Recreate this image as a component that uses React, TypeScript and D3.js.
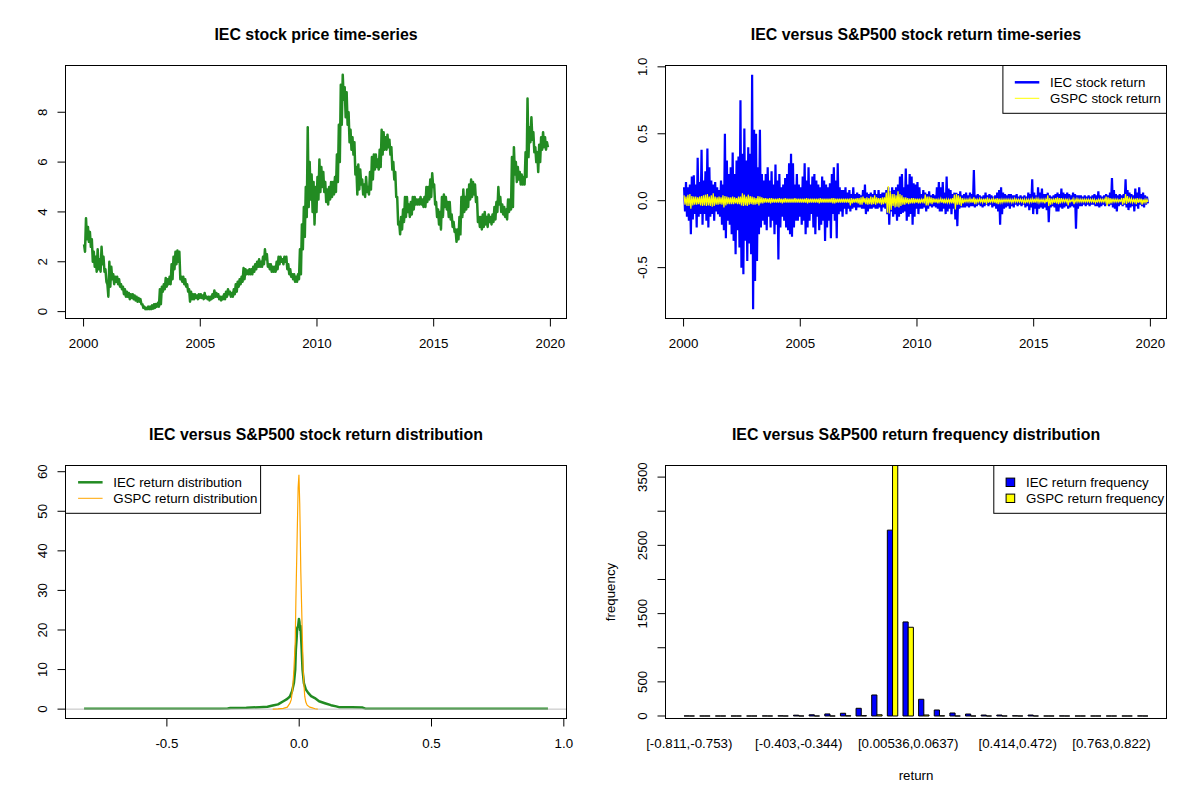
import * as d3 from "d3"

// ---------- data (read from the reference) ----------

// IEC price, monthly high / low, Jan 2000 .. Nov 2019
const iecPriceHigh = [
  2.7, 3.75, 3.4, 3.2, 2.9, 2.4, 2.2, 2.5, 2.1, 2.6, 2.2, 1.7,
  1.1, 2.0, 1.8, 1.5, 1.4, 1.4, 1.3, 1.1, 1.0, 0.9, 0.8, 0.75,
  0.7, 0.7, 0.65, 0.6, 0.55, 0.5, 0.3, 0.2, 0.15, 0.2, 0.2, 0.25,
  0.3, 0.3, 0.35, 0.9, 1.0, 1.1, 1.35, 1.3, 1.4, 1.9, 2.2, 2.4,
  2.45, 2.4, 1.4, 1.4, 1.3, 1.1, 0.9, 0.8, 0.7, 0.7, 0.65, 0.7,
  0.7, 0.65, 0.75, 0.6, 0.6, 0.6, 0.7, 0.85, 0.75, 0.7, 0.6, 0.6,
  0.7, 0.8, 0.9, 0.8, 0.75, 0.9, 1.1, 1.2, 1.3, 1.4, 1.75, 1.7,
  1.65, 1.7, 1.7, 1.8, 1.9, 2.0, 2.1, 2.0, 2.2, 2.5, 2.3, 1.9,
  1.9, 1.8, 1.8, 2.0, 2.2, 2.2, 2.1, 2.2, 2.2, 1.9, 1.7, 1.5,
  1.5, 1.4, 1.5, 2.5, 3.5, 4.2, 5.0, 7.4, 6.0, 5.5, 5.2, 5.0,
  5.4, 6.1, 5.8, 5.6, 5.2, 4.9, 5.0, 5.2, 5.2, 5.4, 6.3, 7.5,
  9.1, 9.5, 9.0, 8.8, 8.0, 7.3, 7.0, 6.8, 5.8, 5.9, 5.7, 5.3,
  5.1, 5.4, 5.0, 5.6, 6.2, 6.3, 6.3, 6.1, 6.5, 7.3, 7.2, 7.0,
  7.1, 6.9, 6.6, 6.0, 5.6, 4.6, 3.6, 3.8, 4.1, 4.6, 4.6, 4.3,
  4.4, 4.6, 4.6, 4.5, 4.5, 4.6, 4.5, 4.6, 5.0, 5.0, 5.3, 5.55,
  5.1, 4.4, 4.1, 4.0, 4.6, 4.7, 4.6, 4.4, 4.4, 3.9, 3.6, 3.3,
  3.3, 3.8, 4.6, 4.9, 4.6, 4.9, 5.1, 5.3, 5.2, 5.1, 4.6, 3.8,
  3.8, 3.9, 4.0, 3.8, 3.9, 3.8, 3.9, 4.2, 4.4, 5.0, 4.6, 4.3,
  4.2, 4.1, 4.5, 4.5, 6.2, 6.6, 6.0, 5.8, 5.6, 5.5, 5.4, 6.4,
  8.55, 7.4, 7.8, 7.2, 6.6, 6.4, 6.7, 7.0, 7.2, 7.0, 6.8,
]
const iecPriceLow = [
  2.4, 2.9, 2.8, 2.6, 2.0, 1.8, 1.6, 1.7, 1.6, 1.9, 1.6, 1.2,
  0.6, 1.0, 1.3, 1.1, 1.2, 1.1, 1.0, 0.9, 0.7, 0.6, 0.6, 0.5,
  0.55, 0.5, 0.45, 0.4, 0.4, 0.3, 0.15, 0.1, 0.1, 0.1, 0.1, 0.12,
  0.15, 0.2, 0.2, 0.3, 0.8, 0.9, 1.0, 1.1, 1.1, 1.3, 1.7, 1.9,
  2.0, 1.3, 1.2, 1.1, 1.0, 0.8, 0.4, 0.5, 0.5, 0.55, 0.5, 0.55,
  0.55, 0.5, 0.55, 0.5, 0.45, 0.5, 0.55, 0.6, 0.6, 0.5, 0.45, 0.5,
  0.5, 0.6, 0.7, 0.6, 0.6, 0.7, 0.8, 1.0, 1.1, 1.2, 1.3, 1.5,
  1.5, 1.5, 1.5, 1.6, 1.7, 1.8, 1.8, 1.8, 1.9, 2.1, 1.8, 1.7,
  1.6, 1.6, 1.6, 1.7, 1.9, 2.0, 1.9, 2.0, 1.7, 1.5, 1.4, 1.3,
  1.2, 1.2, 1.3, 1.5, 2.5, 3.0, 3.8, 4.2, 4.5, 4.0, 3.5, 4.0,
  4.5, 4.8, 5.0, 4.8, 4.4, 4.3, 4.5, 4.6, 4.7, 4.8, 5.2, 6.0,
  7.5, 8.5, 7.8, 7.5, 6.8, 6.5, 6.3, 5.5, 4.7, 4.9, 5.1, 4.7,
  4.6, 4.8, 4.7, 4.9, 5.3, 5.7, 5.8, 5.7, 5.8, 6.3, 6.5, 6.5,
  6.6, 6.3, 5.7, 5.3, 4.6, 3.5, 3.1, 3.3, 3.6, 3.8, 4.0, 3.8,
  3.9, 4.1, 4.3, 4.3, 4.3, 4.3, 4.2, 4.2, 4.4, 4.5, 4.6, 5.0,
  4.3, 3.8, 3.5, 3.3, 3.8, 4.2, 4.1, 3.8, 3.7, 3.4, 3.2, 2.8,
  2.9, 3.1, 3.8, 4.0, 4.1, 4.2, 4.5, 4.6, 4.7, 4.4, 3.6, 3.4,
  3.3, 3.4, 3.5, 3.4, 3.6, 3.5, 3.6, 3.7, 4.0, 4.3, 4.0, 3.9,
  3.8, 3.7, 4.0, 4.1, 4.2, 5.5, 5.2, 5.3, 5.1, 5.1, 5.1, 5.4,
  6.2, 6.8, 6.9, 6.4, 6.0, 5.6, 6.0, 6.5, 6.6, 6.5, 6.6,
]

// daily returns, monthly max / min
const iecRetMax = [
  0.10, 0.14, 0.10, 0.12, 0.18, 0.19, 0.12, 0.32, 0.14, 0.38, 0.15, 0.22,
  0.39, 0.25, 0.15, 0.12, 0.14, 0.10, 0.08, 0.15, 0.12, 0.50, 0.30, 0.20,
  0.25, 0.36, 0.20, 0.30, 0.33, 0.75, 0.35, 0.54, 0.30, 0.40, 0.35, 0.94,
  0.53, 0.50, 0.25, 0.53, 0.20, 0.15, 0.20, 0.25, 0.15, 0.22, 0.12, 0.27,
  0.15, 0.20, 0.10, 0.12, 0.17, 0.20, 0.28, 0.35, 0.28, 0.12, 0.20, 0.12,
  0.10, 0.18, 0.28, 0.15, 0.25, 0.12, 0.18, 0.20, 0.15, 0.12, 0.10, 0.18,
  0.15, 0.12, 0.10, 0.13, 0.20, 0.25, 0.15, 0.28, 0.10, 0.08, 0.08, 0.10,
  0.06, 0.08, 0.05, 0.10, 0.05, 0.06, 0.05, 0.04, 0.08, 0.12, 0.06, 0.05,
  0.06, 0.05, 0.08, 0.05, 0.08, 0.05, 0.06, 0.06, 0.08, 0.10, 0.07, 0.10,
  0.08, 0.10, 0.12, 0.18, 0.20, 0.10, 0.24, 0.12, 0.20, 0.18, 0.13, 0.12,
  0.14, 0.10, 0.05, 0.08, 0.06, 0.05, 0.07, 0.04, 0.05, 0.04, 0.10, 0.14,
  0.10, 0.14, 0.06, 0.18, 0.09, 0.08, 0.05, 0.06, 0.06, 0.05, 0.07, 0.04,
  0.05, 0.06, 0.04, 0.06, 0.05, 0.23, 0.04, 0.05, 0.04, 0.03, 0.04, 0.06,
  0.04, 0.05, 0.04, 0.03, 0.04, 0.06, 0.08, 0.10, 0.06, 0.05, 0.04, 0.05,
  0.05, 0.04, 0.04, 0.05, 0.03, 0.04, 0.03, 0.04, 0.03, 0.06, 0.05, 0.16,
  0.06, 0.04, 0.10, 0.06, 0.09, 0.05, 0.05, 0.06, 0.04, 0.03, 0.04, 0.05,
  0.06, 0.05, 0.09, 0.06, 0.05, 0.06, 0.05, 0.04, 0.06, 0.05, 0.04, 0.04,
  0.04, 0.03, 0.04, 0.03, 0.04, 0.03, 0.04, 0.05, 0.04, 0.07, 0.04, 0.03,
  0.04, 0.05, 0.04, 0.06, 0.17, 0.08, 0.05, 0.04, 0.05, 0.04, 0.05, 0.16,
  0.08, 0.06, 0.05, 0.04, 0.09, 0.06, 0.10, 0.05, 0.06, 0.04, 0.03,
]
const iecRetMin = [
  -0.08, -0.12, -0.15, -0.25, -0.14, -0.10, -0.20, -0.12, -0.10, -0.18, -0.10, -0.15,
  -0.20, -0.12, -0.10, -0.15, -0.08, -0.10, -0.12, -0.18, -0.22, -0.28, -0.15, -0.18,
  -0.25, -0.30, -0.40, -0.22, -0.35, -0.50, -0.55, -0.30, -0.45, -0.32, -0.40, -0.81,
  -0.60, -0.45, -0.25, -0.20, -0.15, -0.18, -0.22, -0.12, -0.20, -0.15, -0.25, -0.18,
  -0.44, -0.20, -0.12, -0.15, -0.20, -0.22, -0.25, -0.27, -0.20, -0.15, -0.15, -0.12,
  -0.18, -0.15, -0.25, -0.20, -0.15, -0.10, -0.20, -0.25, -0.12, -0.22, -0.18, -0.15,
  -0.30, -0.20, -0.15, -0.28, -0.10, -0.15, -0.28, -0.10, -0.08, -0.12, -0.06, -0.10,
  -0.06, -0.08, -0.06, -0.05, -0.07, -0.05, -0.05, -0.06, -0.06, -0.10, -0.08, -0.06,
  -0.06, -0.05, -0.06, -0.06, -0.05, -0.08, -0.05, -0.06, -0.10, -0.18, -0.08, -0.12,
  -0.10, -0.15, -0.12, -0.10, -0.09, -0.08, -0.15, -0.12, -0.10, -0.18, -0.12, -0.06,
  -0.10, -0.06, -0.06, -0.05, -0.08, -0.06, -0.04, -0.05, -0.04, -0.05, -0.06, -0.08,
  -0.08, -0.06, -0.10, -0.08, -0.06, -0.10, -0.06, -0.14, -0.19, -0.06, -0.05, -0.05,
  -0.05, -0.04, -0.05, -0.04, -0.04, -0.05, -0.04, -0.03, -0.04, -0.05, -0.04, -0.03,
  -0.04, -0.03, -0.05, -0.04, -0.06, -0.08, -0.18, -0.10, -0.06, -0.05, -0.04, -0.06,
  -0.04, -0.05, -0.03, -0.04, -0.03, -0.04, -0.03, -0.05, -0.04, -0.07, -0.05, -0.10,
  -0.06, -0.10, -0.06, -0.05, -0.06, -0.05, -0.07, -0.16, -0.05, -0.04, -0.05, -0.08,
  -0.08, -0.05, -0.06, -0.05, -0.04, -0.06, -0.05, -0.04, -0.05, -0.21, -0.06, -0.04,
  -0.04, -0.03, -0.04, -0.03, -0.04, -0.03, -0.03, -0.04, -0.04, -0.05, -0.04, -0.03,
  -0.04, -0.03, -0.04, -0.03, -0.05, -0.06, -0.08, -0.04, -0.03, -0.04, -0.03, -0.05,
  -0.07, -0.05, -0.04, -0.08, -0.04, -0.06, -0.03, -0.04, -0.05, -0.03, -0.02,
]
const gspcRetMax = [
  0.04, 0.03, 0.045, 0.05, 0.035, 0.03, 0.03, 0.025, 0.03, 0.035, 0.04, 0.045,
  0.05, 0.03, 0.04, 0.055, 0.03, 0.025, 0.03, 0.025, 0.04, 0.035, 0.03, 0.025,
  0.025, 0.03, 0.025, 0.02, 0.03, 0.03, 0.055, 0.045, 0.03, 0.045, 0.035, 0.03,
  0.025, 0.02, 0.035, 0.03, 0.025, 0.02, 0.02, 0.015, 0.02, 0.02, 0.015, 0.015,
  0.015, 0.02, 0.015, 0.015, 0.02, 0.015, 0.015, 0.015, 0.015, 0.02, 0.015, 0.015,
  0.015, 0.015, 0.015, 0.02, 0.015, 0.015, 0.015, 0.015, 0.015, 0.015, 0.02, 0.015,
  0.015, 0.015, 0.015, 0.015, 0.02, 0.02, 0.015, 0.015, 0.015, 0.015, 0.015, 0.015,
  0.015, 0.015, 0.02, 0.015, 0.015, 0.02, 0.02, 0.025, 0.03, 0.02, 0.025, 0.02,
  0.03, 0.025, 0.04, 0.025, 0.02, 0.02, 0.025, 0.025, 0.06, 0.11, 0.07, 0.05,
  0.05, 0.04, 0.07, 0.05, 0.04, 0.025, 0.025, 0.02, 0.015, 0.02, 0.02, 0.015,
  0.015, 0.015, 0.01, 0.015, 0.045, 0.03, 0.03, 0.025, 0.02, 0.015, 0.015, 0.01,
  0.015, 0.015, 0.015, 0.01, 0.01, 0.015, 0.02, 0.045, 0.05, 0.04, 0.03, 0.02,
  0.01, 0.01, 0.01, 0.015, 0.015, 0.025, 0.015, 0.01, 0.015, 0.01, 0.015, 0.015,
  0.025, 0.01, 0.01, 0.015, 0.015, 0.02, 0.015, 0.01, 0.01, 0.01, 0.01, 0.01,
  0.01, 0.01, 0.015, 0.01, 0.01, 0.01, 0.01, 0.01, 0.01, 0.01, 0.01, 0.015,
  0.015, 0.015, 0.015, 0.01, 0.01, 0.01, 0.01, 0.04, 0.02, 0.015, 0.01, 0.02,
  0.025, 0.02, 0.02, 0.01, 0.01, 0.015, 0.01, 0.005, 0.015, 0.01, 0.015, 0.01,
  0.01, 0.01, 0.01, 0.01, 0.01, 0.01, 0.01, 0.01, 0.005, 0.01, 0.01, 0.01,
  0.01, 0.03, 0.025, 0.02, 0.015, 0.01, 0.01, 0.01, 0.005, 0.02, 0.02, 0.05,
  0.035, 0.015, 0.015, 0.01, 0.015, 0.02, 0.01, 0.015, 0.01, 0.01, 0.01,
]
const gspcRetMin = [
  -0.03, -0.04, -0.04, -0.06, -0.035, -0.03, -0.03, -0.025, -0.035, -0.04, -0.035, -0.04,
  -0.035, -0.04, -0.045, -0.04, -0.03, -0.03, -0.025, -0.03, -0.05, -0.035, -0.025, -0.025,
  -0.025, -0.025, -0.02, -0.025, -0.025, -0.035, -0.04, -0.035, -0.04, -0.03, -0.025, -0.03,
  -0.03, -0.025, -0.035, -0.02, -0.02, -0.015, -0.015, -0.015, -0.02, -0.015, -0.015, -0.015,
  -0.015, -0.015, -0.02, -0.015, -0.015, -0.015, -0.015, -0.015, -0.015, -0.015, -0.015, -0.015,
  -0.015, -0.015, -0.015, -0.02, -0.015, -0.015, -0.015, -0.015, -0.015, -0.02, -0.015, -0.015,
  -0.015, -0.015, -0.015, -0.015, -0.02, -0.02, -0.015, -0.015, -0.015, -0.015, -0.015, -0.015,
  -0.015, -0.035, -0.02, -0.015, -0.015, -0.02, -0.03, -0.03, -0.015, -0.025, -0.03, -0.025,
  -0.03, -0.025, -0.03, -0.02, -0.02, -0.03, -0.025, -0.02, -0.09, -0.095, -0.07, -0.04,
  -0.05, -0.045, -0.05, -0.04, -0.03, -0.03, -0.02, -0.025, -0.02, -0.02, -0.02, -0.015,
  -0.02, -0.02, -0.01, -0.02, -0.035, -0.035, -0.02, -0.025, -0.015, -0.015, -0.02, -0.01,
  -0.015, -0.02, -0.02, -0.015, -0.015, -0.02, -0.02, -0.065, -0.03, -0.03, -0.04, -0.02,
  -0.01, -0.01, -0.01, -0.015, -0.015, -0.025, -0.015, -0.01, -0.01, -0.015, -0.015, -0.025,
  -0.015, -0.01, -0.01, -0.015, -0.02, -0.025, -0.015, -0.015, -0.01, -0.01, -0.01, -0.01,
  -0.015, -0.01, -0.01, -0.01, -0.01, -0.01, -0.015, -0.02, -0.01, -0.015, -0.01, -0.015,
  -0.015, -0.01, -0.015, -0.01, -0.01, -0.02, -0.01, -0.04, -0.03, -0.015, -0.015, -0.02,
  -0.025, -0.02, -0.01, -0.01, -0.01, -0.035, -0.01, -0.005, -0.025, -0.01, -0.01, -0.01,
  -0.01, -0.01, -0.01, -0.01, -0.01, -0.01, -0.01, -0.015, -0.01, -0.01, -0.01, -0.01,
  -0.01, -0.04, -0.025, -0.02, -0.01, -0.01, -0.01, -0.01, -0.005, -0.03, -0.02, -0.025,
  -0.015, -0.01, -0.015, -0.01, -0.025, -0.015, -0.01, -0.03, -0.015, -0.015, -0.01,
]

// kernel density estimates of the returns
const iecDensX = [
  -0.813, -0.6, -0.4, -0.3, -0.27, -0.26, -0.2, -0.15, -0.12, -0.1, -0.08, -0.06,
  -0.045, -0.035, -0.027, -0.02, -0.015, -0.0126, -0.01, -0.0076, -0.004, -0.001,
  0.001, 0.003, 0.005, 0.0088, 0.0126, 0.0177, 0.025, 0.034, 0.045, 0.059, 0.075,
  0.097, 0.12, 0.14, 0.15, 0.2, 0.24, 0.25, 0.4, 0.6, 0.8, 0.94,
]
const iecDensY = [
  0.1, 0.1, 0.1, 0.12, 0.15, 0.3, 0.35, 0.5, 0.6, 0.9, 1.2, 2.0,
  2.6, 3.2, 4.5, 6.6, 10, 15, 17.5, 20.5, 21, 22.8,
  22, 20, 21, 16, 10, 6.6, 5, 4.1, 3.3, 2.8, 2.0,
  1.5, 1.0, 0.7, 0.5, 0.45, 0.4, 0.12, 0.1, 0.1, 0.1, 0.1,
]
const gspcDensX = [
  -0.1, -0.08, -0.06, -0.045, -0.035, -0.03, -0.025, -0.02, -0.015, -0.0126, -0.0076,
  -0.004, -0.001, 0.002, 0.0038, 0.006, 0.0088, 0.012, 0.015, 0.018, 0.021, 0.025,
  0.03, 0.04, 0.05, 0.06, 0.07,
]
const gspcDensY = [
  0.02, 0.05, 0.2, 0.5, 1.5, 2.4, 5, 10, 17, 27, 44,
  56, 59.2, 52, 45, 35, 27, 18, 10, 6, 3.2, 1.8,
  1.0, 0.5, 0.3, 0.1, 0.02,
]

// return frequency, 30 bins
const binLabels = [
  "[-0.811,-0.753)", "[-0.753,-0.694)", "[-0.694,-0.636)", "[-0.636,-0.578)", "[-0.578,-0.519)",
  "[-0.519,-0.461)", "[-0.461,-0.403)", "[-0.403,-0.344)", "[-0.344,-0.286)", "[-0.286,-0.228)",
  "[-0.228,-0.169)", "[-0.169,-0.111)", "[-0.111,-0.053)", "[-0.053,0.00536)", "[0.00536,0.0637)",
  "[0.0637,0.122)", "[0.122,0.181)", "[0.181,0.239)", "[0.239,0.297)", "[0.297,0.356)",
  "[0.356,0.414)", "[0.414,0.472)", "[0.472,0.531)", "[0.531,0.589)", "[0.589,0.647)",
  "[0.647,0.706)", "[0.706,0.763)", "[0.763,0.822)", "[0.822,0.88)", "[0.88,0.939]",
]
const shownBins = [0, 7, 14, 21, 27]
const iecFreq = [1, 0, 0, 0, 0, 1, 2, 12, 18, 30, 40, 113, 308, 2723, 1378, 245, 88, 44, 29, 14, 14, 3, 14, 0, 1, 0, 0, 0, 0, 1]
const gspcFreq = [0, 0, 0, 0, 0, 0, 0, 0, 0, 0, 3, 5, 18, 3670, 1300, 15, 3, 0, 0, 0, 0, 0, 0, 0, 0, 0, 0, 0, 0, 0]

const yearTicks = [2000, 2005, 2010, 2015, 2020]
const priceTicks = [0, 2, 4, 6, 8]
const returnTicks = [-0.5, 0, 0.5, 1]
const densXTicks = [-0.5, 0, 0.5, 1]
const densYTicks = [0, 10, 20, 30, 40, 50, 60]
const freqTicks = [0, 500, 1000, 1500, 2000, 2500, 3000, 3500]
const freqLabelled = [0, 500, 1500, 2500, 3500]

// ---------- layout ----------

const FONT = "'Liberation Sans', Arial, Helvetica, sans-serif"
const box = { l: 65.5, r: 566.5, t: 65.5, b: 318.5 }

// R pads the data range by 4% on each side
function rLinear(lo: number, hi: number, range: [number, number]) {
  const d = hi - lo
  return d3.scaleLinear().domain([lo - 0.04 * d, hi + 0.04 * d]).range(range)
}

function monthly(a: number[], b: number[]) {
  return a.flatMap((v, i) => [
    { t: 2000 + (i + 0.25) / 12, v },
    { t: 2000 + (i + 0.75) / 12, v: b[i] },
  ])
}

const fmt1 = (v: number) => v.toFixed(1)

function Frame({ title }: { title: string }) {
  return (
    <>
      <rect x={box.l} y={box.t} width={box.r - box.l} height={box.b - box.t} fill="none" stroke="black" />
      <text x={(box.l + box.r) / 2} y={39.5} textAnchor="middle" fontWeight="bold" fontSize={15.9}>
        {title}
      </text>
    </>
  )
}

function XAxis({ x, ticks, fmt }: { x: (v: number) => number; ticks: number[]; fmt: (v: number) => string }) {
  return (
    <g>
      <line x1={x(ticks[0])} x2={x(ticks[ticks.length - 1])} y1={box.b} y2={box.b} stroke="black" />
      {ticks.map((t) => (
        <g key={t}>
          <line x1={x(t)} x2={x(t)} y1={box.b} y2={box.b + 8} stroke="black" />
          <text x={x(t)} y={box.b + 29.5} textAnchor="middle">
            {fmt(t)}
          </text>
        </g>
      ))}
    </g>
  )
}

function YAxis({
  y,
  ticks,
  fmt,
  show,
}: {
  y: (v: number) => number
  ticks: number[]
  fmt: (v: number) => string
  show?: number[]
}) {
  return (
    <g>
      <line x1={box.l} x2={box.l} y1={y(ticks[0])} y2={y(ticks[ticks.length - 1])} stroke="black" />
      {ticks.map((t) => (
        <g key={t}>
          <line x1={box.l} x2={box.l - 8} y1={y(t)} y2={y(t)} stroke="black" />
          {(!show || show.includes(t)) && (
            <text transform={`translate(${box.l - 18.5},${y(t)}) rotate(-90)`} textAnchor="middle">
              {fmt(t)}
            </text>
          )}
        </g>
      ))}
    </g>
  )
}

type Item = { label: string; color: string; width?: number; fill?: boolean }

function Legend({ x0, x1, items, sym, text }: { x0: number; x1: number; items: Item[]; sym: number; text: number }) {
  return (
    <g>
      <rect x={x0} y={box.t} width={x1 - x0} height={47.8} fill="white" stroke="black" />
      {items.map((it, i) => {
        const cy = 82.3 + i * 16
        return (
          <g key={it.label}>
            {it.fill ? (
              <rect x={sym - 4.3} y={cy - 4.2} width={8.6} height={8.4} fill={it.color} stroke="black" />
            ) : (
              <line x1={sym} x2={sym + 24.5} y1={cy} y2={cy} stroke={it.color} strokeWidth={it.width} />
            )}
            <text x={text} y={cy + 4.7}>
              {it.label}
            </text>
          </g>
        )
      })}
    </g>
  )
}

// ---------- panels ----------

function PricePanel() {
  const pts = monthly(iecPriceHigh, iecPriceLow)
  const [t0, t1] = d3.extent(pts, (d) => d.t) as [number, number]
  const x = rLinear(t0, t1, [box.l, box.r])
  const y = rLinear(d3.min(iecPriceLow)!, d3.max(iecPriceHigh)!, [box.b, box.t])
  const line = d3
    .line<{ t: number; v: number }>()
    .x((d) => x(d.t))
    .y((d) => y(d.v))
  return (
    <g>
      <path d={line(pts)!} fill="none" stroke="#228B22" strokeWidth={2.5} strokeLinejoin="round" />
      <Frame title="IEC stock price time-series" />
      <XAxis x={x} ticks={yearTicks} fmt={String} />
      <YAxis y={y} ticks={priceTicks} fmt={String} />
    </g>
  )
}

function ReturnPanel() {
  const iec = monthly(iecRetMax, iecRetMin)
  const gspc = monthly(gspcRetMax, gspcRetMin)
  const [t0, t1] = d3.extent(iec, (d) => d.t) as [number, number]
  const x = rLinear(t0, t1, [box.l, box.r])
  const y = rLinear(d3.min(iecRetMin)!, d3.max(iecRetMax)!, [box.b, box.t])
  const line = d3
    .line<{ t: number; v: number }>()
    .x((d) => x(d.t))
    .y((d) => y(d.v))
  return (
    <g>
      <path d={line(iec)!} fill="none" stroke="#0000FF" strokeWidth={2.2} />
      <path d={line(gspc)!} fill="none" stroke="#FFFF00" strokeWidth={1.2} />
      <Frame title="IEC versus S&P500 stock return time-series" />
      <XAxis x={x} ticks={yearTicks} fmt={String} />
      <YAxis y={y} ticks={returnTicks} fmt={fmt1} />
      <Legend
        x0={402.9}
        x1={box.r}
        sym={414.8}
        text={450}
        items={[
          { label: "IEC stock return", color: "#0000FF", width: 2.5 },
          { label: "GSPC stock return", color: "#FFFF00", width: 1 },
        ]}
      />
    </g>
  )
}

function DensityPanel() {
  const x = rLinear(d3.min(iecDensX)!, d3.max(iecDensX)!, [box.l, box.r])
  const y = rLinear(0, d3.max(gspcDensY)!, [box.b, box.t])
  const path = (xs: number[], ys: number[]) =>
    d3
      .line<number>()
      .x((d) => x(d))
      .y((_, i) => y(ys[i]))(xs)!
  return (
    <g>
      <defs>
        <clipPath id="densClip">
          <rect x={box.l} y={box.t} width={box.r - box.l} height={box.b - box.t} />
        </clipPath>
      </defs>
      <g clipPath="url(#densClip)">
        <path d={path(iecDensX, iecDensY)} fill="none" stroke="#228B22" strokeWidth={2.5} strokeLinejoin="round" />
        <line x1={box.l} x2={box.r} y1={y(0)} y2={y(0)} stroke="#BEBEBE" strokeWidth={1} />
        <path d={path(gspcDensX, gspcDensY)} fill="none" stroke="#FFA500" strokeWidth={1.2} />
      </g>
      <Frame title="IEC versus S&P500 stock return distribution" />
      <XAxis x={x} ticks={densXTicks} fmt={fmt1} />
      <YAxis y={y} ticks={densYTicks} fmt={String} />
      <Legend
        x0={box.l}
        x1={260.6}
        sym={78.1}
        text={113.3}
        items={[
          { label: "IEC return distribution", color: "#228B22", width: 2.5 },
          { label: "GSPC return distribution", color: "#FFA500", width: 1 },
        ]}
      />
    </g>
  )
}

function FrequencyPanel() {
  const n = iecFreq.length
  // barplot(beside = TRUE): groups of two bars plus one bar of space
  const x = rLinear(1, 3 * n, [box.l, box.r])
  const top = Math.max(d3.max(iecFreq)!, d3.max(gspcFreq)!)
  const y = d3.scaleLinear().domain([-0.01 * top, top]).range([box.b, box.t])
  const series = [
    { values: iecFreq, color: "#0000FF" },
    { values: gspcFreq, color: "#FFFF00" },
  ]
  return (
    <g>
      {series.map((s, j) =>
        s.values.map((v, i) => {
          const left = 1 + 3 * i + j
          const x0 = x(left)
          const x1 = x(left + 1)
          // a path so that empty bins still show their outline as a dash
          return (
            <path
              key={`${j}-${i}`}
              d={`M${x0},${y(0)}H${x1}V${y(v)}H${x0}Z`}
              fill={s.color}
              stroke="black"
            />
          )
        }),
      )}
      <Frame title="IEC versus S&P500 return frequency distribution" />
      <YAxis y={y} ticks={freqTicks} fmt={String} show={freqLabelled} />
      {shownBins.map((i) => (
        <text key={i} x={x(2 + 3 * i)} y={box.b + 29.5} textAnchor="middle">
          {binLabels[i]}
        </text>
      ))}
      <text x={(box.l + box.r) / 2} y={box.b + 61.5} textAnchor="middle">
        return
      </text>
      <text transform={`translate(15,${(box.t + box.b) / 2}) rotate(-90)`} textAnchor="middle">
        frequency
      </text>
      <Legend
        x0={393.8}
        x1={box.r}
        sym={410.4}
        text={426}
        items={[
          { label: "IEC return frequency", color: "#0000FF", fill: true },
          { label: "GSPC return frequency", color: "#FFFF00", fill: true },
        ]}
      />
    </g>
  )
}

export default function App() {
  return (
    <svg
      width={1200}
      height={800}
      style={{ position: "absolute", left: 0, top: 0, background: "white" }}
      fontFamily={FONT}
      fontSize={13.3}
    >
      <rect width={1200} height={800} fill="white" />
      <g transform="translate(0,0)">
        <PricePanel />
      </g>
      <g transform="translate(600,0)">
        <ReturnPanel />
      </g>
      <g transform="translate(0,400)">
        <DensityPanel />
      </g>
      <g transform="translate(600,400)">
        <FrequencyPanel />
      </g>
    </svg>
  )
}
